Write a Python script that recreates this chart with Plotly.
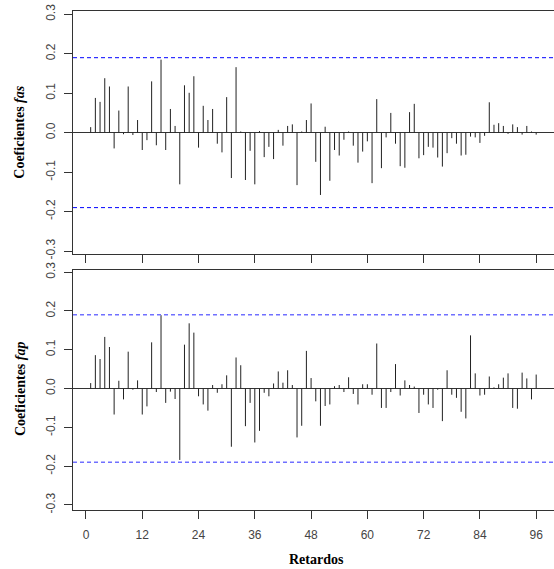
import plotly.graph_objects as go

lags = list(range(1, 97))
fas = [0.014, 0.088, 0.078, 0.138, 0.117, -0.040, 0.056, -0.004, 0.117, -0.006,
       0.032, -0.044, -0.019, 0.130, -0.032, 0.185, -0.044, 0.060, 0.017, -0.131,
       0.120, 0.101, 0.143, -0.038, 0.068, 0.032, 0.060, -0.028, -0.050, 0.090,
       -0.115, 0.166, 0.003, -0.120, -0.046, -0.131, 0.004, -0.062, -0.036, -0.067,
       0.007, -0.033, 0.017, 0.021, -0.133, 0.003, 0.032, 0.074, -0.074, -0.158,
       0.015, -0.122, -0.044, -0.058, -0.018, 0.003, -0.033, -0.076, -0.048, -0.022,
       -0.128, 0.085, -0.090, -0.012, 0.050, -0.028, -0.085, -0.089, 0.052, 0.073,
       -0.065, -0.057, -0.036, -0.038, -0.063, -0.086, -0.052, -0.014, -0.028, -0.058,
       -0.056, -0.010, -0.012, -0.026, -0.008, 0.077, 0.020, 0.024, 0.017, -0.003,
       0.021, 0.014, -0.005, 0.017, 0.003, -0.005]
fap = [0.014, 0.086, 0.076, 0.133, 0.107, -0.067, 0.020, -0.028, 0.095, -0.003,
       0.021, -0.067, -0.046, 0.119, -0.009, 0.189, -0.037, -0.008, -0.027, -0.184,
       0.113, 0.168, 0.144, -0.020, -0.041, -0.057, 0.009, -0.011, 0.011, 0.034,
       -0.150, 0.080, 0.060, -0.097, -0.037, -0.139, -0.109, -0.011, -0.020, 0.013,
       0.044, 0.015, 0.047, 0.009, -0.126, -0.096, 0.097, 0.027, -0.033, -0.096,
       -0.045, -0.041, 0.006, 0.009, -0.009, 0.029, -0.014, -0.041, 0.011, 0.011,
       -0.016, 0.116, -0.050, -0.050, -0.009, 0.063, -0.018, 0.021, 0.009, 0.005,
       -0.063, -0.016, -0.041, -0.050, -0.003, -0.084, 0.047, -0.016, -0.024, -0.060,
       -0.077, 0.137, 0.039, -0.018, -0.016, 0.031, 0.003, 0.011, 0.028, 0.039,
       -0.050, -0.052, 0.041, 0.026, -0.028, 0.036]
conf_limit = 0.19
x_ticks = [0, 12, 24, 36, 48, 60, 72, 84, 96]
y_ticks = [-0.3, -0.2, -0.1, 0.0, 0.1, 0.2, 0.3]
y_ticktext = ["-0.3", "-0.2", "-0.1", "0.0", "0.1", "0.2", "0.3"]

W, H = 554, 569


def stems(xs, ys):
    sx, sy = [], []
    for a, b in zip(xs, ys):
        sx += [a, a, None]
        sy += [0, b, None]
    return sx, sy


fig = go.Figure()
for i, vals in enumerate([fas, fap]):
    xa = "x" if i == 0 else "x2"
    ya = "y" if i == 0 else "y2"
    sx, sy = stems(lags, vals)
    fig.add_trace(go.Scatter(x=sx, y=sy, mode="lines", xaxis=xa, yaxis=ya,
                             line=dict(color="#222222", width=1), hoverinfo="skip",
                             showlegend=False))
    dash_col = "#0000ff" if i == 0 else "#7070ff"
    for c in (conf_limit, -conf_limit):
        fig.add_trace(go.Scatter(x=[-2.77, 101], y=[c, c], mode="lines", xaxis=xa, yaxis=ya,
                                 line=dict(color=dash_col, width=1 if i == 0 else 1.6,
                                           dash="4px,3px"),
                                 hoverinfo="skip", showlegend=False))

xdom = [73 / W, 1.0]
top_dom = [(H - 254) / H, (H - 11.3) / H]
bot_dom = [(H - 510) / H, (H - 270) / H]

common_x = dict(range=[-2.77, 99.8], tickmode="array", tickvals=x_ticks,
                ticks="outside", ticklen=8, tickcolor="#333333", tickwidth=1,
                showline=True, linecolor="#333333", linewidth=1, mirror=True,
                showgrid=False, zeroline=False, automargin=False,
                tickfont=dict(family="Liberation Sans, Arial", size=12, color="#444444"))
common_y = dict(tickmode="array", tickvals=y_ticks, ticktext=y_ticktext,
                ticks="outside", ticklen=8, tickcolor="#333333", tickwidth=1,
                showline=True, linecolor="#333333", linewidth=1, mirror=False,
                showgrid=False, zeroline=True, zerolinecolor="#333333", zerolinewidth=1,
                tickangle=-90, automargin=False, ticklabelstandoff=4,
                tickfont=dict(family="Liberation Sans, Arial", size=12, color="#444444"))

title_font = dict(family="Liberation Serif, Times New Roman", size=14, color="#000000")

fig.update_layout(
    width=W, height=H,
    margin=dict(l=0, r=0, t=0, b=0),
    paper_bgcolor="white", plot_bgcolor="white",
    xaxis=dict(domain=xdom, anchor="y", showticklabels=False, **common_x),
    yaxis=dict(domain=top_dom, anchor="x", range=[-0.3076, 0.3076], **common_y),
    xaxis2=dict(domain=xdom, anchor="y2", showticklabels=True, ticklabelstandoff=6, **common_x),
    yaxis2=dict(domain=bot_dom, anchor="x2", range=[-0.313, 0.3054], **common_y),
    annotations=[
        dict(text="<b>Coeficientes <i>fas</i></b>", xref="paper", yref="paper",
             x=20 / W, y=(H - 132.7) / H, textangle=-90, showarrow=False,
             xanchor="center", yanchor="middle", font=title_font),
        dict(text="<b>Coeficientes <i>fap</i></b>", xref="paper", yref="paper",
             x=20 / W, y=(H - 389) / H, textangle=-90, showarrow=False,
             xanchor="center", yanchor="middle", font=title_font),
        dict(text="<b>Retardos</b>", xref="paper", yref="paper",
             x=316 / W, y=(H - 559) / H, showarrow=False,
             xanchor="center", yanchor="middle", font=title_font),
    ],
)

fig.write_html("out.html", config={"displayModeBar": False},
               post_script="document.body.style.margin='0';document.body.style.overflow='hidden';")
